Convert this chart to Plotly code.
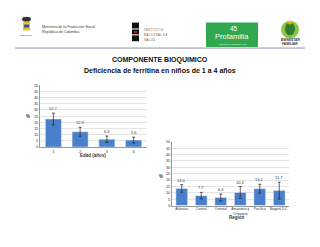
import plotly.graph_objects as go

# ---- data ----
edad_cats = ["1", "2", "3", "4"]
edad_vals = [22.7, 12.3, 6.3, 5.6]
edad_err = [4.8, 3.6, 2.6, 2.4]

region_cats = ["Atlántica", "Central", "Oriental", "Amazonía y<br>Orinoquia", "Pacífica", "Bogotá D.C."]
region_vals = [13.4, 7.7, 6.3, 10.3, 13.2, 11.7]
region_err = [3.0, 2.6, 2.7, 4.6, 3.5, 6.6]

y_ticks = [0, 5, 10, 15, 20, 25, 30, 35, 40, 45, 50]

W, H = 320, 247
def px(x): return x / W
def py(y): return 1 - y / H

FONT = "Liberation Sans, Arial, sans-serif"
BAR = "#4A7FCB"

fig = go.Figure()
fig.add_trace(go.Bar(x=edad_cats, y=edad_vals, marker_color=BAR, width=0.6,
                     error_y=dict(type="data", array=edad_err, color="#222", thickness=0.7, width=1.5),
                     xaxis="x", yaxis="y", showlegend=False, hoverinfo="skip"))
fig.add_trace(go.Bar(x=region_cats, y=region_vals, marker_color=BAR, width=0.6,
                     error_y=dict(type="data", array=region_err, color="#222", thickness=0.7, width=1.5),
                     xaxis="x2", yaxis="y2", showlegend=False, hoverinfo="skip"))

def fmt(v): return f"{v:.1f}".replace(".", ",")

ann = []
for i, (v, e) in enumerate(zip(edad_vals, edad_err)):
    ann.append(dict(x=i, y=v + e, xref="x", yref="y", text=fmt(v), showarrow=False,
                    xanchor="center", yanchor="bottom", font=dict(size=4, color="#333", family=FONT)))
for i, (v, e) in enumerate(zip(region_vals, region_err)):
    ann.append(dict(x=i, y=v + e, xref="x2", yref="y2", text=fmt(v), showarrow=False,
                    xanchor="center", yanchor="bottom", font=dict(size=4, color="#333", family=FONT)))

def ptext(x, y, text, size, color="#333", xanchor="center"):
    ann.append(dict(x=px(x), y=py(y), xref="paper", yref="paper", text=text, showarrow=False,
                    xanchor=xanchor, yanchor="middle", font=dict(size=size, color=color, family=FONT)))

# axis titles
ptext(28, 116, "<b>%</b>", 4.5)
ptext(161, 177, "<b>%</b>", 4.5)
ptext(93, 156, "<b>Edad (años)</b>", 4.5)
ptext(237, 219, "<b>Región</b>", 4.5)

# titles
ptext(160, 58.5, "<b>COMPONENTE BIOQUIMICO</b>", 7, "#111")
ptext(160, 68.5, "<b>Deficiencia de ferritina en niños de 1 a 4 años</b>", 7, "#111")

# header logos text
ptext(40, 25, "Ministerio de la Protección Social", 3.6, xanchor="left")
ptext(40, 29.5, "República de Colombia", 3.6, xanchor="left")
ptext(26.5, 32.5, "Gobierno Nal.", 2)
for i, t in enumerate(["I N S T I T U T O", "N A C I O N A L  D E", "S A L U D"]):
    ptext(142, 28 + 5 * i, t, 2.6, "#444", xanchor="left")
ptext(232, 34.5, "Profamilia", 7.5, "white")
ptext(234, 26.5, "45", 6.5, "white")
ptext(232, 41.5, "salud sexual y reproductiva · 1965", 1.8, "white")
ptext(290, 37.5, "<b>BIENESTAR</b>", 3.3)
ptext(290, 41.7, "<b>FAMILIAR</b>", 3.3)

shapes = [
    # header rule
    dict(type="line", xref="paper", yref="paper", x0=px(15), x1=px(305), y0=py(46), y1=py(46),
         line=dict(color="#8A94A8", width=1)),
    # coat of arms approx
    dict(type="rect", xref="paper", yref="paper", x0=px(23), x1=px(30), y0=py(28), y1=py(19),
         fillcolor="#E8C030", line=dict(width=0)),
    dict(type="rect", xref="paper", yref="paper", x0=px(24), x1=px(29), y0=py(25), y1=py(22),
         fillcolor="#3050A0", line=dict(width=0)),
    dict(type="circle", xref="paper", yref="paper", x0=px(22), x1=px(31), y0=py(19), y1=py(14),
         fillcolor="#333", line=dict(width=0)),
    # INS blocks
    dict(type="rect", xref="paper", yref="paper", x0=px(132), x1=px(139), y0=py(26), y1=py(20),
         fillcolor="#111", line=dict(width=0)),
    dict(type="rect", xref="paper", yref="paper", x0=px(132), x1=px(139), y0=py(32), y1=py(27),
         fillcolor="#111", line=dict(width=0)),
    dict(type="rect", xref="paper", yref="paper", x0=px(134), x1=px(137), y0=py(30.5), y1=py(28.5),
         fillcolor="#C02020", line=dict(width=0)),
    dict(type="rect", xref="paper", yref="paper", x0=px(132), x1=px(139), y0=py(39), y1=py(33),
         fillcolor="#111", line=dict(width=0)),
    # Profamilia
    dict(type="rect", xref="paper", yref="paper", x0=px(206), x1=px(258), y0=py(45), y1=py(20),
         fillcolor="#2FA84F", line=dict(width=0), layer="below"),
    # Bienestar icon
    dict(type="circle", xref="paper", yref="paper", x0=px(281), x1=px(299), y0=py(36), y1=py(18),
         fillcolor="#8CC63F", line=dict(width=0)),
    dict(type="circle", xref="paper", yref="paper", x0=px(285), x1=px(295), y0=py(33), y1=py(20),
         fillcolor="#2E7D32", line=dict(width=0)),
    dict(type="circle", xref="paper", yref="paper", x0=px(288), x1=px(292), y0=py(22), y1=py(18),
         fillcolor="#F2B705", line=dict(width=0)),
]

axis_common = dict(showgrid=False, showline=True, linecolor="#999", linewidth=0.7, tickangle=0,
                   ticks="", fixedrange=True)
yaxis_common = dict(range=[0, 50], tickvals=y_ticks, showgrid=True, gridcolor="#E4E4E4", gridwidth=0.6,
                    showline=True, linecolor="#999", linewidth=0.7, ticks="",
                    tickfont=dict(size=4, color="#333", family=FONT), zeroline=False, fixedrange=True)

fig.update_layout(
    width=W, height=H, margin=dict(l=0, r=0, t=0, b=0),
    paper_bgcolor="white", plot_bgcolor="white",
    bargap=0.4,
    xaxis=dict(domain=[px(40), px(147)], anchor="y",
               tickfont=dict(size=4, color="#333", family=FONT), **axis_common),
    yaxis=dict(domain=[py(147), py(84)], anchor="x", **yaxis_common),
    xaxis2=dict(domain=[px(172), px(289)], anchor="y2",
                tickfont=dict(size=3.4, color="#333", family=FONT), **axis_common),
    yaxis2=dict(domain=[py(206.7), py(141.7)], anchor="x2", **yaxis_common),
    annotations=ann, shapes=shapes, font=dict(family=FONT),
)

fig.write_html("out.html")
